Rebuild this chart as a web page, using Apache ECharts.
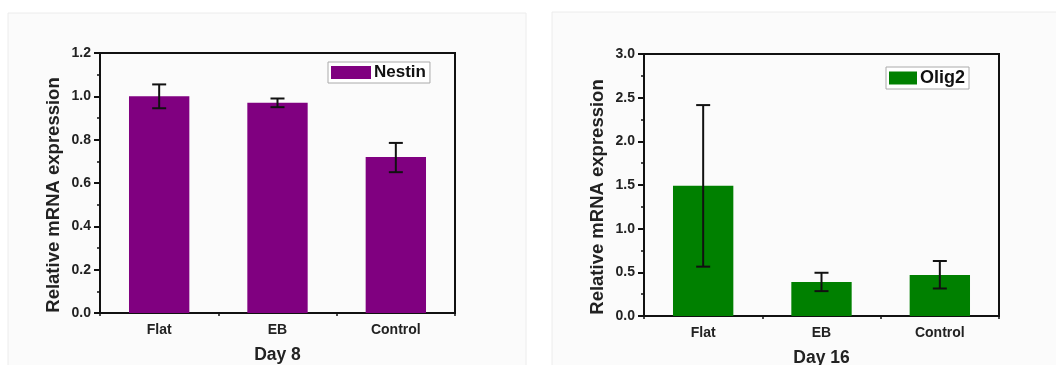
<!DOCTYPE html>
<html><head><meta charset="utf-8">
<script src="https://cdn.jsdelivr.net/npm/echarts@6/dist/echarts.min.js"></script>
<style>html,body{margin:0;padding:0;background:#fff}#c{width:1056px;height:365px}</style>
</head><body><div id="c"></div>
<script>
const categories = ['Flat', 'EB', 'Control'];
const nestinValues = [1.0, 0.97, 0.72];
const nestinErrLow = [0.945, 0.95, 0.65];
const nestinErrHigh = [1.055, 0.99, 0.785];
const olig2Values = [1.49, 0.39, 0.47];
const olig2ErrLow = [0.565, 0.285, 0.315];
const olig2ErrHigh = [2.415, 0.495, 0.63];
const leftTicks = { min: 0, max: 1.2, interval: 0.2 };
const rightTicks = { min: 0, max: 3.0, interval: 0.5 };

const FONT = 'Liberation Sans, Arial, sans-serif';
const chart = echarts.init(document.getElementById('c'));

function errData(lo, hi) { return categories.map((c, i) => [i, lo[i], hi[i]]); }
function errRender(params, api) {
  const x = api.value(0);
  const lo = api.coord([x, api.value(1)]);
  const hi = api.coord([x, api.value(2)]);
  const cap = 7;
  const st = { stroke: '#111', lineWidth: 2 };
  return { type: 'group', children: [
    { type: 'line', shape: { x1: lo[0], y1: lo[1], x2: hi[0], y2: hi[1] }, style: st },
    { type: 'line', shape: { x1: lo[0] - cap, y1: lo[1], x2: lo[0] + cap, y2: lo[1] }, style: st },
    { type: 'line', shape: { x1: hi[0] - cap, y1: hi[1], x2: hi[0] + cap, y2: hi[1] }, style: st }
  ]};
}
function catAxis(grid, name) {
  return {
    type: 'category', gridIndex: grid, data: categories,
    axisLine: { lineStyle: { color: '#111', width: 2 } },
    axisTick: { alignWithLabel: true, length: 5, lineStyle: { color: '#111', width: 2 } },
    axisLabel: { color: '#222', fontFamily: FONT, fontWeight: 'bold', fontSize: 14, margin: 10 },
    name: name, nameLocation: 'middle', nameGap: 33,
    nameTextStyle: { color: '#222', fontFamily: FONT, fontWeight: 'bold', fontSize: 17.5 }
  };
}
function bndAxis(grid) {
  return {
    type: 'value', gridIndex: grid, min: 0, max: 3, interval: 1, position: 'bottom',
    axisLine: { show: false }, splitLine: { show: false }, axisLabel: { show: false },
    axisTick: { show: true, length: 3, lineStyle: { color: '#111', width: 1.5 } }
  };
}
function valAxis(grid, t) {
  return {
    type: 'value', gridIndex: grid, min: t.min, max: t.max, interval: t.interval,
    axisLine: { show: true, lineStyle: { color: '#111', width: 2 } },
    axisTick: { show: true, length: 6, lineStyle: { color: '#111', width: 2 } },
    minorTick: { show: true, splitNumber: 2, length: 3, lineStyle: { color: '#111', width: 1.5 } },
    splitLine: { show: false },
    axisLabel: { color: '#222', fontFamily: FONT, fontWeight: 'bold', fontSize: 14, margin: 9,
      formatter: v => v.toFixed(1) },
    name: 'Relative mRNA expression', nameLocation: 'middle', nameGap: 37,
    nameTextStyle: { color: '#222', fontFamily: FONT, fontWeight: 'bold', fontSize: 18.5, padding: [0, 24, 0, 0] }
  };
}
function legend(name, left, top, w, fs) {
  return {
    data: [{ name: name, icon: 'rect' }], left: left, top: top, orient: 'horizontal',
    itemWidth: w, itemHeight: 13, itemGap: 4,
    borderColor: '#aaa', borderWidth: 1, backgroundColor: '#fff', padding: [2, 4, 2, 3],
    textStyle: { color: '#111', fontFamily: FONT, fontWeight: 'bold', fontSize: fs, padding: [0, 0, 0, -2] }
  };
}

chart.setOption({
  backgroundColor: '#fff',
  animation: false,
  graphic: [
    { type: 'rect', z: -10, shape: { x: 8, y: 13, width: 518, height: 360 },
      style: { fill: '#fbfbfb', stroke: '#ececec', lineWidth: 1 } },
    { type: 'rect', z: -10, shape: { x: 552, y: 12, width: 510, height: 360 },
      style: { fill: '#fbfbfb', stroke: '#ececec', lineWidth: 1 } }
  ],
  grid: [
    { left: 100, right: 601, top: 53, bottom: 52, show: true, borderColor: '#111', borderWidth: 2,
      backgroundColor: 'transparent', outerBoundsMode: 'none', containLabel: false },
    { left: 644, right: 57, top: 54, bottom: 49, show: true, borderColor: '#111', borderWidth: 2,
      backgroundColor: 'transparent', outerBoundsMode: 'none', containLabel: false }
  ],
  legend: [legend('Nestin', 328, 62, 40, 17), legend('Olig2', 886, 67, 28, 18)],
  xAxis: [catAxis(0, 'Day 8'), catAxis(1, 'Day 16'), bndAxis(0), bndAxis(1)],
  yAxis: [valAxis(0, leftTicks), valAxis(1, rightTicks)],
  series: [
    { name: 'Nestin', type: 'bar', xAxisIndex: 0, yAxisIndex: 0, data: nestinValues, barWidth: '51%',
      itemStyle: { color: '#800080' } },
    { type: 'custom', xAxisIndex: 0, yAxisIndex: 0, data: errData(nestinErrLow, nestinErrHigh),
      renderItem: errRender, z: 5 },
    { name: 'Olig2', type: 'bar', xAxisIndex: 1, yAxisIndex: 1, data: olig2Values, barWidth: '51%',
      itemStyle: { color: '#008000' } },
    { type: 'custom', xAxisIndex: 1, yAxisIndex: 1, data: errData(olig2ErrLow, olig2ErrHigh),
      renderItem: errRender, z: 5 }
  ]
});
</script></body></html>
